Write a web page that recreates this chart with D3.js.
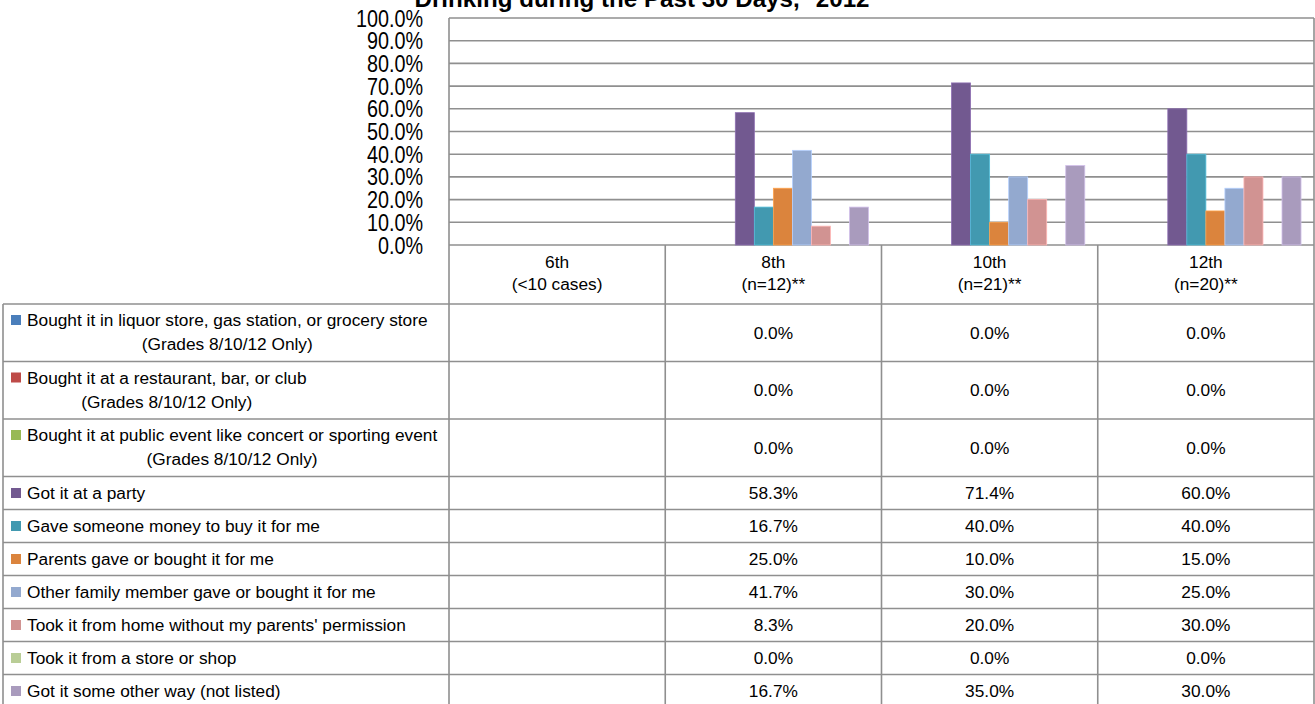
<!DOCTYPE html>
<html>
<head>
<meta charset="utf-8">
<script src="https://cdn.jsdelivr.net/npm/d3@7"></script>
<style>
  html, body { margin: 0; padding: 0; background: #fff; overflow: hidden; }
  svg { display: block; font-family: "Liberation Sans", Arial, sans-serif; }
</style>
</head>
<body>
<div id="chart"></div>
<script>
// Grades (columns) and the note under each one
const grades = ["6th", "8th", "10th", "12th"];
const gradeNotes = ["(<10 cases)", "(n=12)**", "(n=21)**", "(n=20)**"];

// Sources (series), second line where the label wraps
const sourceLabels = [
    "Bought it in liquor store, gas station, or grocery store",
    "Bought it at a restaurant, bar, or club",
    "Bought it at public event like concert or sporting event",
    "Got it at a party",
    "Gave someone money to buy it for me",
    "Parents gave or bought it for me",
    "Other family member gave or bought it for me",
    "Took it from home without my parents' permission",
    "Took it from a store or shop",
    "Got it some other way (not listed)"
];
const sourceNotes = [
    "(Grades 8/10/12 Only)", "(Grades 8/10/12 Only)", "(Grades 8/10/12 Only)",
    "", "", "", "", "", "", ""
];
const sourceColors = [
    "#4a7ebb", "#be4b48", "#98b954", "#725990", "#4299b0",
    "#db843d", "#93a9cf", "#d19392", "#b9cd96", "#a99bbd"
];

// Percent per source, one value per grade (null = not reported)
const liquorStore   = [null, 0.0, 0.0, 0.0];
const restaurantBar = [null, 0.0, 0.0, 0.0];
const publicEvent   = [null, 0.0, 0.0, 0.0];
const party         = [null, 58.3, 71.4, 60.0];
const gaveMoney     = [null, 16.7, 40.0, 40.0];
const parents       = [null, 25.0, 10.0, 15.0];
const otherFamily   = [null, 41.7, 30.0, 25.0];
const tookFromHome  = [null, 8.3, 20.0, 30.0];
const tookFromStore = [null, 0.0, 0.0, 0.0];
const otherWay      = [null, 16.7, 35.0, 30.0];

const seriesValues = [liquorStore, restaurantBar, publicEvent, party, gaveMoney,
    parents, otherFamily, tookFromHome, tookFromStore, otherWay];

const yTicks = [0, 10, 20, 30, 40, 50, 60, 70, 80, 90, 100];

// Layout
const width = 1315, height = 704;
const plot = { left: 449, right: 1314, top: 18, bottom: 245 };
const table = { left: 3, top: 304 };
const headerTop = plot.bottom;
const rowHeights = sourceNotes.map(n => n ? 57.5 : 33);
const gridColor = "#8f8f8f";
const fontSize = 17.3;

const svg = d3.select("#chart").append("svg")
    .attr("width", width)
    .attr("height", height)
    .attr("viewBox", [0, 0, width, height]);

// Scales
const x0 = d3.scaleBand().domain(grades).range([plot.left, plot.right]);
const groupGap = x0.bandwidth() * 0.06;
const x1 = d3.scaleBand().domain(d3.range(sourceLabels.length))
    .range([groupGap, x0.bandwidth() - groupGap]);
const y = d3.scaleLinear().domain([0, 100]).range([plot.bottom, plot.top]);

// Title (top of it runs off the page, as in the source)
svg.append("text")
    .attr("x", 642)
    .attr("y", 7)
    .attr("text-anchor", "middle")
    .attr("font-weight", "bold")
    .attr("font-size", 23)
    .attr("textLength", 455)
    .attr("lengthAdjust", "spacingAndGlyphs")
    .text("Drinking during the Past 30 Days,* 2012");

// Gridlines
svg.append("g")
    .selectAll("line")
    .data(yTicks)
    .join("line")
        .attr("x1", plot.left)
        .attr("x2", plot.right)
        .attr("y1", d => y(d))
        .attr("y2", d => y(d))
        .attr("stroke", gridColor)
        .attr("stroke-width", 1.6);

// Y axis labels (squeezed like the original)
const yAxis = svg.append("g")
    .attr("transform", `translate(423,0)`)
    .call(d3.axisLeft(y).tickValues(yTicks).tickSize(0).tickPadding(0)
        .tickFormat(d => d.toFixed(1) + "%"))
    .call(g => g.select(".domain").remove());
yAxis.selectAll("text")
    .attr("font-size", 23)
    .attr("fill", "#000")
    .attr("font-family", "Liberation Sans, Arial, sans-serif")
    .attr("dy", "0.35em")
    .attr("transform", "scale(0.86,1)")
    .attr("x", 0);

// Bars
const barData = [];
grades.forEach((g, gi) => {
    seriesValues.forEach((vals, si) => {
        if (vals[gi] !== null && vals[gi] > 0) barData.push({ grade: g, s: si, v: vals[gi] });
    });
});
svg.append("g")
    .selectAll("rect")
    .data(barData)
    .join("rect")
        .attr("x", d => x0(d.grade) + x1(d.s))
        .attr("y", d => y(d.v))
        .attr("width", x1.bandwidth())
        .attr("height", d => y(0) - y(d.v))
        .attr("fill", d => sourceColors[d.s])
        .attr("stroke", d => d3.color(sourceColors[d.s]).brighter(0.6))
        .attr("stroke-width", 0.8);

// Header row with grade names
const header = svg.append("g");
header.selectAll("text.grade")
    .data(grades)
    .join("text")
        .attr("x", d => x0(d) + x0.bandwidth() / 2)
        .attr("y", headerTop + 23)
        .attr("text-anchor", "middle")
        .attr("font-size", fontSize)
        .text(d => d);
header.selectAll("text.note")
    .data(gradeNotes)
    .join("text")
        .attr("x", (d, i) => x0(grades[i]) + x0.bandwidth() / 2)
        .attr("y", headerTop + 45)
        .attr("text-anchor", "middle")
        .attr("font-size", fontSize)
        .text(d => d);

// Table rows
const rowTops = [];
let acc = table.top;
rowHeights.forEach(h => { rowTops.push(acc); acc += h; });

const rows = svg.append("g")
    .selectAll("g")
    .data(sourceLabels)
    .join("g")
        .attr("transform", (d, i) => `translate(0,${rowTops[i]})`);

rows.append("rect")
    .attr("x", 11)
    .attr("y", (d, i) => (sourceNotes[i] ? 16 : rowHeights[i] / 2) - 5)
    .attr("width", 10)
    .attr("height", 10)
    .attr("fill", (d, i) => sourceColors[i]);

rows.append("text")
    .attr("class", "label")
    .attr("x", 27)
    .attr("y", (d, i) => (sourceNotes[i] ? 16 : rowHeights[i] / 2) + 6)
    .attr("font-size", fontSize)
    .text(d => d);

rows.each(function (d, i) {
    if (!sourceNotes[i]) return;
    const row = d3.select(this);
    const w = row.select("text.label").node().getComputedTextLength();
    row.append("text")
        .attr("x", 27 + w / 2)
        .attr("y", 46)
        .attr("text-anchor", "middle")
        .attr("font-size", fontSize)
        .text(sourceNotes[i]);
});

rows.each(function (d, i) {
    d3.select(this).selectAll("text.val")
        .data(grades.map((g, gi) => ({ g, v: seriesValues[i][gi] })).filter(c => c.v !== null))
        .join("text")
            .attr("class", "val")
            .attr("x", c => x0(c.g) + x0.bandwidth() / 2)
            .attr("y", rowHeights[i] / 2 + 6)
            .attr("text-anchor", "middle")
            .attr("font-size", fontSize)
            .text(c => c.v.toFixed(1) + "%");
});

// Table grid lines
const tableBottom = acc;
const grid = svg.append("g")
    .attr("stroke", gridColor)
    .attr("stroke-width", 1.6);

// horizontal
grid.selectAll("line.h")
    .data(rowTops.concat([tableBottom]))
    .join("line")
        .attr("x1", table.left)
        .attr("x2", plot.right)
        .attr("y1", d => d)
        .attr("y2", d => d);
// vertical: category boundaries through header and table
grid.selectAll("line.v")
    .data(grades.map(g => x0(g)).concat([plot.right]))
    .join("line")
        .attr("x1", d => d)
        .attr("x2", d => d)
        .attr("y1", (d, i) => (i === 0 || i === grades.length) ? plot.top : headerTop)
        .attr("y2", tableBottom);
grid.append("line")
    .attr("x1", table.left)
    .attr("x2", table.left)
    .attr("y1", table.top)
    .attr("y2", tableBottom);
</script>
</body>
</html>
